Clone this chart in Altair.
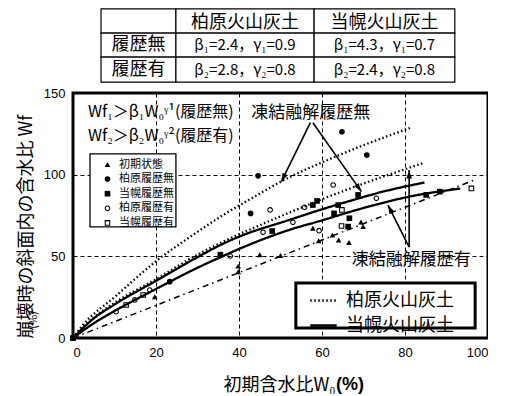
import math
import altair as alt
import pandas as pd

CJK = "Noto Sans CJK JP"
LAT = "Liberation Sans"

# ---------------- data ----------------
categories = ["初期状態", "柏原履歴無", "当幌履歴無", "柏原履歴有", "当幌履歴有"]
RING = ("M0,-1A1,1 0 1,1 0,1A1,1 0 1,1 0,-1Z"
        "M0,-0.62A0.62,0.62 0 1,0 0,0.62A0.62,0.62 0 1,0 0,-0.62Z")
BOX = "M-1,-1H1V1H-1ZM-0.62,-0.62V0.62H0.62V-0.62Z"
cat_shapes = ["triangle-up", "circle", "square", RING, BOX]

init_x = [0, 19.7, 39.8, 39.8, 45.0, 50.0, 57.8, 59.2, 62.5, 64.0, 66.5, 69.4, 69.9]
init_y = [0, 25.3, 44.0, 40.6, 51.0, 50.5, 67.2, 59.5, 63.0, 60.0, 58.5, 71.0, 68.2]

kas_no_x = [0, 23.3, 42.8, 44.6, 64.8, 70.8]
kas_no_y = [0, 34.5, 76.3, 99.3, 126.3, 112.0]

tou_no_x = [0, 35.5, 48.0, 57.8, 58.8, 63.9, 62.9, 66.6, 66.3, 68.7, 85.1, 88.4]
tou_no_y = [0, 51.0, 65.5, 81.4, 83.9, 81.4, 76.3, 73.3, 68.2, 87.6, 87.6, 89.6]

kas_yes_x = [10.4, 14.9, 18.5, 37.9, 45.8, 47.5, 53.0, 55.8, 59.3, 62.7, 73.1]
kas_yes_y = [16.1, 23.3, 29.4, 50.2, 64.7, 78.4, 70.8, 80.0, 65.7, 93.7, 85.5]

tou_yes_x = [12.8, 16.9, 64.8, 64.7, 96.0]
tou_yes_y = [20.2, 26.3, 78.4, 68.6, 91.6]

soils = ["柏原火山灰土", "当幌火山灰土"]
histories = ["履歴無", "履歴有"]
beta_values = {"柏原火山灰土": [2.4, 2.8], "当幌火山灰土": [4.3, 2.4]}
gamma_values = {"柏原火山灰土": [0.9, 0.8], "当幌火山灰土": [0.7, 0.8]}

# fitted curves as drawn in the picture
kas_no_cx = [0, 2.4, 10, 20, 30, 36, 42, 53, 60, 70, 81.2]
kas_no_cy = [0, 8, 25, 47, 65, 75, 84, 99.5, 107.5, 118, 128.6]
kas_yes_cx = [0, 5, 10, 20, 30, 40, 45, 50, 55.4, 60, 70, 84.3]
kas_yes_cy = [0, 12.5, 21.5, 36, 51, 63.5, 69, 74.5, 80.2, 85, 94.5, 107]
tou_no_cx = [0, 5, 10, 20, 30, 36, 40, 52, 60, 67.5, 75, 84.7]
tou_no_cy = [0, 12, 20.5, 35, 49.5, 57.5, 62, 72.2, 78.8, 84.5, 89.8, 95.2]
tou_yes_cx = [0, 5, 10, 20, 30, 36, 40, 52, 60, 67.5, 73.5, 80, 93.3]
tou_yes_cy = [0, 9, 16.5, 30, 43, 50, 54.5, 66.1, 72, 77.8, 82, 86, 91.5]

one_x = [0, 97]
one_y = [0, 97]

x_ticks = [0, 20, 40, 60, 80, 100]
y_ticks = [0, 50, 100, 150]

# annotation arrows (tail -> head)
arr_x1 = [57.2, 57.8, 81.0, 81.0]
arr_y1 = [131.8, 131.8, 55.7, 55.7]
arr_x2 = [50.2, 69.5, 81.0, 75.9]
arr_y2 = [95.7, 89.6, 102.9, 81.4]

# ---------------- layout ----------------
W, H = 415, 245
XMAX, YMAX = 100, 150
SX, SY = W / XMAX, H / YMAX

# table grid (data units, above the plot)
col_edges = [6.75, 24.8, 58.1, 92.0]
row_edges = [201.5, 186.7, 172.0, 156.7]
# legend frames (data units): x1, x2, y1, y2, stroke width
frames = [(4.1, 24.8, 68.0, 112.7, 1.3), (53.7, 96.9, 6.1, 33.7, 3.0)]

xs = alt.Scale(domain=[0, XMAX], nice=False, zero=False)
ys = alt.Scale(domain=[0, YMAX], nice=False, zero=False)

# ---------------- frames ----------------
pt_rows = []
for cat, (xx, yy) in zip(categories, [(init_x, init_y), (kas_no_x, kas_no_y), (tou_no_x, tou_no_y),
                                       (kas_yes_x, kas_yes_y), (tou_yes_x, tou_yes_y)]):
    for a, b in zip(xx, yy):
        pt_rows.append({"x": a, "y": b, "cat": cat})
pts_df = pd.DataFrame(pt_rows)

cv_rows = []
for soil, hist, cx, cy in [
    (soils[0], histories[0], kas_no_cx, kas_no_cy),
    (soils[0], histories[1], kas_yes_cx, kas_yes_cy),
    (soils[1], histories[0], tou_no_cx, tou_no_cy),
    (soils[1], histories[1], tou_yes_cx, tou_yes_cy),
]:
    for i, (a, b) in enumerate(zip(cx, cy)):
        cv_rows.append({"x": a, "y": b, "soil": soil, "curve": soil + hist, "i": i})
cv_df = pd.DataFrame(cv_rows)

one_df = pd.DataFrame({"x": one_x, "y": one_y})

arr_df = pd.DataFrame({"x": arr_x1, "y": arr_y1, "x2": arr_x2, "y2": arr_y2})
arr_df["ang"] = [
    math.degrees(math.atan2((b - a) * SX, (d - c) * SY)) % 360
    for a, b, c, d in zip(arr_x1, arr_x2, arr_y1, arr_y2)
]
head_df = pd.DataFrame({"x": arr_x2, "y": arr_y2, "ang": arr_df["ang"]})

frame_df = pd.DataFrame([{"x": a, "x2": b, "y": c, "y2": d, "sw": w} for a, b, c, d, w in frames])

# table
cell_rows = []
txt_rows = []
header = [""] + soils
for r in range(3):
    for c in range(3):
        cell_rows.append({"x": col_edges[c], "x2": col_edges[c + 1],
                          "y": row_edges[r + 1], "y2": row_edges[r]})
for c in range(3):
    txt_rows.append({"x": (col_edges[c] + col_edges[c + 1]) / 2,
                     "y": (row_edges[0] + row_edges[1]) / 2 - 1.2, "t": header[c], "fs": 18})
sub = {0: "₁", 1: "₂"}
for r, hist in enumerate(histories):
    yc = (row_edges[r + 1] + row_edges[r + 2]) / 2
    txt_rows.append({"x": (col_edges[0] + col_edges[1]) / 2, "y": yc, "t": hist, "fs": 18})
    for c, soil in enumerate(soils):
        s = sub[r]
        t = f"β{s}={beta_values[soil][r]}，γ{s}={gamma_values[soil][r]}"
        txt_rows.append({"x": (col_edges[c + 1] + col_edges[c + 2]) / 2, "y": yc, "t": t, "fs": 15})
cells_df = pd.DataFrame(cell_rows)
ttxt_df = pd.DataFrame(txt_rows)

left_txt = pd.DataFrame({
    "x": [3.6, 3.6],
    "y": [138.5, 123.7],
    "t": ["Wf₁＞β₁W₀ᵞ¹(履歴無)", "Wf₂＞β₂W₀ᵞ²(履歴有)"],
    "fs": [16, 16],
})
ctr_txt = pd.DataFrame({
    "x": [57.3, 81.5],
    "y": [137.8, 47.8],
    "t": ["凍結融解履歴無", "凍結融解履歴有"],
    "fs": [17, 17],
})
pct_x = pd.DataFrame({"x": [63.4], "y": [-28.5], "t": ["(%)"]})
pct_y = pd.DataFrame({"x": [-9.4], "y": [11.0], "t": ["(%)"]})

# ---------------- charts ----------------
xaxis = alt.Axis(values=x_ticks, grid=True, gridDash=[4, 3], gridColor="black", gridWidth=1,
                 ticks=False, domain=False, labelFont=LAT, labelFontSize=13, labelColor="black",
                 labelPadding=8, title="初期含水比W₀", titleFont=CJK, titleFontSize=18,
                 titleFontWeight="normal", titleColor="black", titleX=150, titleY=47,
                 titleAlign="left", titleBaseline="middle")
yaxis = alt.Axis(values=y_ticks, grid=True, gridDash=[4, 3], gridColor="black", gridWidth=1,
                 ticks=False, domain=False, labelFont=LAT, labelFontSize=13, labelColor="black",
                 labelPadding=8, title="崩壊時の斜面内の含水比 Wf", titleFont=CJK, titleFontSize=18,
                 titleFontWeight="normal", titleColor="black", titleAnchor="start", titlePadding=8)

shape_legend = alt.Legend(
    title=None, orient="none", legendX=18, legendY=62,
    padding=4, symbolOffset=7, labelFont=CJK, labelFontSize=11, labelColor="black",
    symbolSize=32, symbolFillColor="black", symbolStrokeWidth=0, rowPadding=2.6, labelOffset=6,
)
dash_legend = alt.Legend(
    title=None, orient="none", legendX=224, legendY=191,
    padding=2, symbolOffset=10, symbolType="stroke", symbolSize=700, symbolStrokeWidth=2.5,
    symbolStrokeColor="black", labelFont=CJK, labelFontSize=18, labelColor="black",
    labelOffset=8, rowPadding=1,
)

base_x = alt.X("x:Q", scale=xs, axis=xaxis)
base_y = alt.Y("y:Q", scale=ys, axis=yaxis)
px = alt.X("x:Q", scale=xs)
py = alt.Y("y:Q", scale=ys)

one_layer = alt.Chart(one_df).mark_line(color="black", strokeWidth=1.5, strokeDash=[6, 4, 1.5, 4]).encode(
    x=base_x, y=base_y)

curve_layer = alt.Chart(cv_df).mark_line(color="black", strokeWidth=2.3, strokeCap="butt",
                                         interpolate="monotone").encode(
    x=px, y=py, detail="curve:N", order="i:Q",
    strokeDash=alt.StrokeDash("soil:N", scale=alt.Scale(domain=soils, range=[[1.5, 2.5], [1, 0]]),
                              legend=dash_legend),
)

pt_layer = alt.Chart(pts_df).mark_point(filled=True, color="black", opacity=1, size=32).encode(
    x=px, y=py,
    shape=alt.Shape("cat:N", scale=alt.Scale(domain=categories, range=cat_shapes), legend=shape_legend),
)

rule_layer = alt.Chart(arr_df).mark_rule(color="black", strokeWidth=1.6).encode(
    x=px, y=py, x2="x2:Q", y2="y2:Q")

head_layer = alt.Chart(head_df).mark_point(shape="M0,0L-0.32,1L0.32,1Z", filled=True, color="black",
                                           opacity=1, size=300).encode(
    x=px, y=py, angle=alt.Angle("ang:Q", scale=None))

frame_layer = alt.Chart(frame_df).mark_rect(fill="white", stroke="black").encode(
    x=px, x2="x2:Q", y=py, y2="y2:Q", strokeWidth=alt.StrokeWidth("sw:Q", scale=None, legend=None))

cells_layer = alt.Chart(cells_df).mark_rect(fill="white", stroke="black", strokeWidth=1.2).encode(
    x=px, x2="x2:Q", y=py, y2="y2:Q")

ttxt_layer = alt.Chart(ttxt_df).mark_text(font=CJK, color="black", align="center", baseline="middle").encode(
    x=px, y=py, text="t:N", size=alt.Size("fs:Q", scale=None))

left_layer = alt.Chart(left_txt).mark_text(font=CJK, color="black", align="left", baseline="middle").encode(
    x=px, y=py, text="t:N", size=alt.Size("fs:Q", scale=None))

ctr_layer = alt.Chart(ctr_txt).mark_text(font=CJK, color="black", align="center", baseline="middle").encode(
    x=px, y=py, text="t:N", size=alt.Size("fs:Q", scale=None))

pctx_layer = alt.Chart(pct_x).mark_text(font=LAT, fontSize=18, fontWeight="bold", color="black",
                                        align="left", baseline="middle").encode(
    x=px, y=py, text="t:N")

pcty_layer = alt.Chart(pct_y).mark_text(font=CJK, fontSize=11, color="black", angle=270,
                                        align="center", baseline="middle").encode(
    x=px, y=py, text="t:N")

chart = alt.layer(
    one_layer, curve_layer, pt_layer, rule_layer, head_layer, frame_layer,
    cells_layer, ttxt_layer, left_layer, ctr_layer, pctx_layer, pcty_layer,
).properties(
    width=W, height=H, padding={"left": 9, "top": 0, "right": 0, "bottom": 0}, background="white",
).configure_view(stroke="black", strokeWidth=3)

chart.save("out.html", embed_options={"renderer": "svg", "actions": False})
